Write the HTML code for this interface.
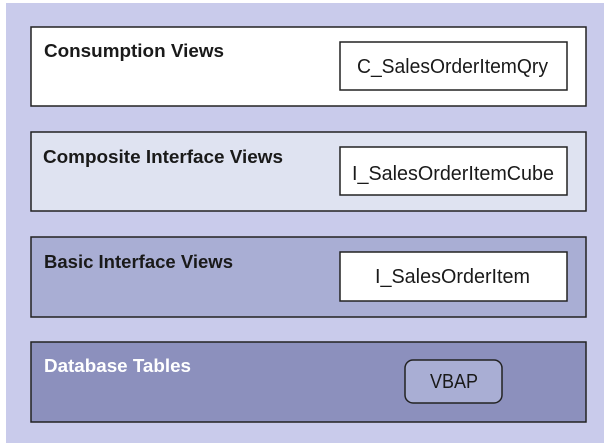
<!DOCTYPE html>
<html><head><meta charset="utf-8"><style>html,body{margin:0;padding:0;background:#fff}svg{display:block}</style></head>
<body>
<svg width="610" height="447" viewBox="0 0 610 447" xmlns="http://www.w3.org/2000/svg" font-family="Liberation Sans, sans-serif">
<rect x="6" y="3" width="598" height="440" fill="#c9cbeb"/>
<g stroke="#222" stroke-width="1.5">
<rect x="31" y="27" width="555" height="79" fill="#ffffff"/>
<rect x="31" y="132" width="555" height="79" fill="#dfe3f1"/>
<rect x="31" y="237" width="555" height="80" fill="#a9aed4"/>
<rect x="31" y="342" width="555" height="80" fill="#8c90bd"/>
<rect x="340" y="42" width="227" height="48" fill="#fff"/>
<rect x="340" y="147" width="227" height="48" fill="#fff"/>
<rect x="340" y="252" width="227" height="49" fill="#fff"/>
<rect x="405" y="360" width="97" height="43" rx="8" fill="#a9aed4"/>
</g>
<g font-weight="bold" font-size="18" fill="#1a1a1a">
<text x="44" y="57" textLength="180" lengthAdjust="spacingAndGlyphs">Consumption Views</text>
<text x="43" y="163" textLength="240" lengthAdjust="spacingAndGlyphs">Composite Interface Views</text>
<text x="44" y="268" textLength="189" lengthAdjust="spacingAndGlyphs">Basic Interface Views</text>
<text x="44" y="372" textLength="147" lengthAdjust="spacingAndGlyphs" fill="#fff">Database Tables</text>
</g>
<g font-size="20" fill="#1a1a1a">
<text x="357" y="73" textLength="191" lengthAdjust="spacingAndGlyphs">C_SalesOrderItemQry</text>
<text x="352" y="180" textLength="202" lengthAdjust="spacingAndGlyphs">I_SalesOrderItemCube</text>
<text x="375" y="283" textLength="155" lengthAdjust="spacingAndGlyphs">I_SalesOrderItem</text>
<text x="430" y="388" textLength="48" lengthAdjust="spacingAndGlyphs">VBAP</text>
</g>
</svg>
</body></html>
